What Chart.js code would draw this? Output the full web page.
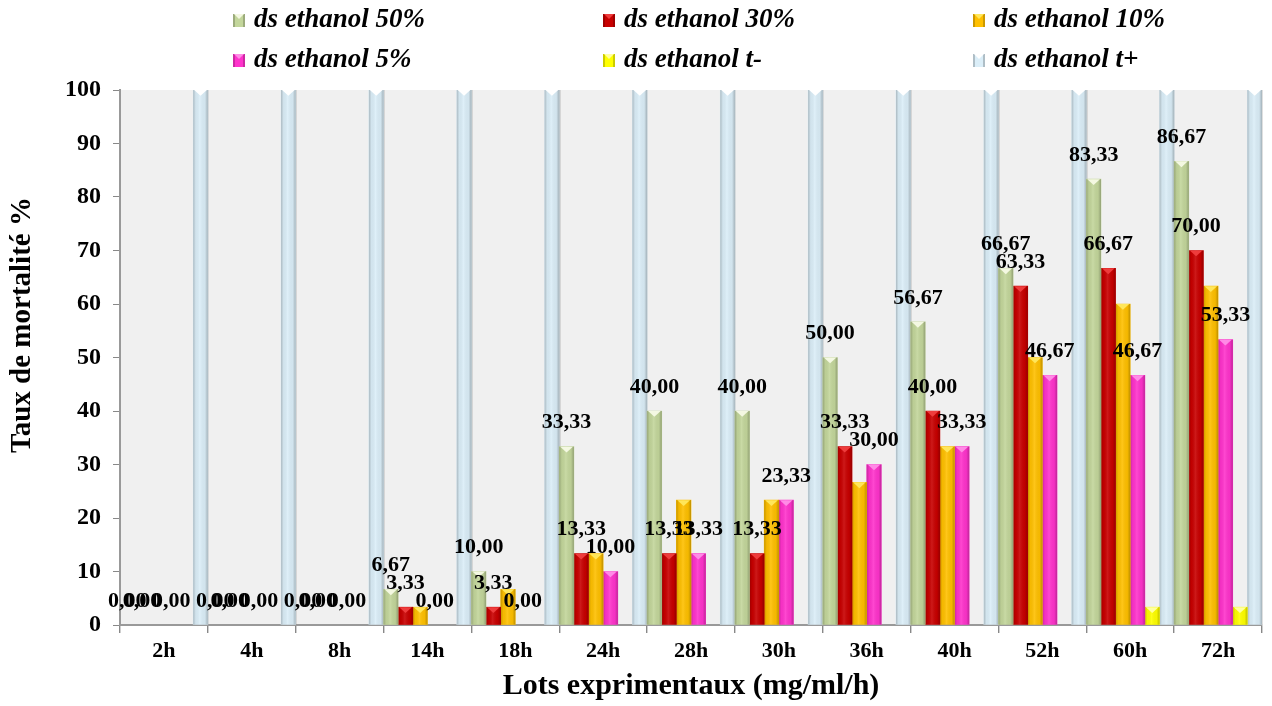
<!DOCTYPE html>
<html>
<head>
<meta charset="utf-8">
<script src="https://cdn.jsdelivr.net/npm/chart.js@4.4.0/dist/chart.umd.min.js"></script>
<style>
  html, body { margin: 0; padding: 0; background: #fff; }
</style>
</head>
<body>
<canvas id="mortalityChart" width="1272" height="706"></canvas>
<script>
"use strict";

// Exposure times
const lots = ["2h", "4h", "8h", "14h", "18h", "24h", "28h", "30h", "36h", "40h", "52h", "60h", "72h"];

// Mortality rate (%) for each ethanol extract dose
const ethanol50 = [0, 0, 0, 6.67, 10, 33.33, 40, 40, 50, 56.67, 66.67, 83.33, 86.67];
const ethanol30 = [0, 0, 0, 3.33, 3.33, 13.33, 13.33, 13.33, 33.33, 40, 63.33, 66.67, 70];
const ethanol10 = [0, 0, 0, 3.33, 6.67, 13.33, 23.33, 23.33, 26.67, 33.33, 50, 60, 63.33];
const ethanol5 = [0, 0, 0, 0, 0, 10, 13.33, 23.33, 30, 33.33, 46.67, 46.67, 53.33];
const ethanolTminus = [0, 0, 0, 0, 0, 0, 0, 0, 0, 0, 0, 3.33, 3.33];
const ethanolTplus = [100, 100, 100, 100, 100, 100, 100, 100, 100, 100, 100, 100, 100];

const SERIF = "'Liberation Serif', 'Times New Roman', serif";
const Y_TITLE = "Taux de mortalité %";

// label, values, fill, bevel highlight, whether values are printed
const series = [
  { label: "ds ethanol 50%", data: ethanol50, color: "#c3d69b", light: "#f4f8e2", values: true },
  { label: "ds ethanol 30%", data: ethanol30, color: "#c80000", light: "#ee3c3c", values: true },
  { label: "ds ethanol 10%", data: ethanol10, color: "#ffc000", light: "#ffe65a", values: false },
  { label: "ds ethanol 5%", data: ethanol5, color: "#ff33cc", light: "#ff8ae6", values: true },
  { label: "ds ethanol t-", data: ethanolTminus, color: "#ffff00", light: "#ffffa0", values: false },
  { label: "ds ethanol t+", data: ethanolTplus, color: "#dbeef8", light: "#ffffff", values: false }
];

// Gray plot wall behind the bars
const plotBackground = {
  id: "plotBackground",
  beforeDraw(chart) {
    const { ctx, chartArea: a } = chart;
    ctx.save();
    ctx.fillStyle = "#f0f0f0";
    ctx.fillRect(a.left, a.top, a.right - a.left, a.bottom - a.top);
    ctx.restore();
  }
};

// Shaded sides and a light pyramid cap on every bar
const bevel = {
  id: "bevel",
  afterDatasetDraw(chart, args) {
    const s = series[args.index];
    const ctx = chart.ctx;
    ctx.save();
    args.meta.data.forEach(bar => {
      const { x, y, base, width } = bar.getProps(["x", "y", "base", "width"], true);
      const h = base - y;
      if (h < 1) return;
      const left = x - width / 2;
      const g = ctx.createLinearGradient(left, 0, left + width, 0);
      g.addColorStop(0, "rgba(0,0,0,0.22)");
      g.addColorStop(0.18, "rgba(0,0,0,0.04)");
      g.addColorStop(0.45, "rgba(255,255,255,0.10)");
      g.addColorStop(0.8, "rgba(0,0,0,0.04)");
      g.addColorStop(1, "rgba(0,0,0,0.25)");
      ctx.fillStyle = g;
      ctx.fillRect(left, y, width, h);
      const cap = Math.min(width * 0.4, h);
      ctx.fillStyle = s.light;
      ctx.beginPath();
      ctx.moveTo(left + 1, y);
      ctx.lineTo(left + width - 1, y);
      ctx.lineTo(x, y + cap);
      ctx.closePath();
      ctx.fill();
    });
    ctx.restore();
  }
};

// Printed values above bars ("33,33")
const valueLabels = {
  id: "valueLabels",
  afterDatasetsDraw(chart) {
    const ctx = chart.ctx;
    ctx.save();
    ctx.font = "bold 22px " + SERIF;
    ctx.fillStyle = "#000";
    ctx.textAlign = "center";
    ctx.textBaseline = "middle";
    series.forEach((s, i) => {
      if (!s.values) return;
      chart.getDatasetMeta(i).data.forEach((bar, j) => {
        const txt = s.data[j].toFixed(2).replace(".", ",");
        ctx.fillText(txt, bar.x, bar.y - 24);
      });
    });
    ctx.restore();
  }
};

// Two-row legend in three columns, plus the rotated y title
const gridLegend = {
  id: "gridLegend",
  afterDraw(chart) {
    const ctx = chart.ctx;
    const cols = [233, 603, 973];
    const rows = [20, 60];
    ctx.save();
    ctx.font = "italic bold 27px " + SERIF;
    ctx.textBaseline = "middle";
    ctx.textAlign = "left";
    series.forEach((s, i) => {
      const bx = cols[i % 3];
      const by = rows[Math.floor(i / 3)];
      ctx.fillStyle = s.color;
      ctx.fillRect(bx, by - 6, 12, 13);
      ctx.fillStyle = "rgba(0,0,0,0.2)";
      ctx.fillRect(bx, by - 6, 2, 13);
      ctx.fillRect(bx + 10, by - 6, 2, 13);
      ctx.fillStyle = s.light;
      ctx.beginPath();
      ctx.moveTo(bx + 1, by - 6);
      ctx.lineTo(bx + 11, by - 6);
      ctx.lineTo(bx + 6, by - 1);
      ctx.closePath();
      ctx.fill();
      ctx.fillStyle = "#000";
      ctx.fillText(s.label, bx + 21, by);
    });

    ctx.translate(23, 325);
    ctx.rotate(-Math.PI / 2);
    ctx.font = "bold 29px " + SERIF;
    ctx.textAlign = "center";
    ctx.fillText(Y_TITLE, 0, 0);
    ctx.restore();
  }
};

new Chart(document.getElementById("mortalityChart"), {
  type: "bar",
  data: {
    labels: lots,
    datasets: series.map(s => ({
      label: s.label,
      data: s.data,
      // empty bars stay invisible instead of a hairline on the axis
      backgroundColor: ctx => (ctx.raw > 0 ? s.color : "rgba(0,0,0,0)"),
      borderWidth: 0,
      categoryPercentage: 1.0,
      barPercentage: 1.0
    }))
  },
  options: {
    responsive: false,
    animation: false,
    layout: { padding: { top: 90, right: 10, left: 0, bottom: 0 } },
    plugins: {
      legend: { display: false },
      tooltip: { enabled: false }
    },
    scales: {
      x: {
        afterFit(scale) { scale.height = 81; },
        grid: { color: "#b0b0b0", lineWidth: 1.4, tickLength: 8, tickColor: "#888" },
        border: { color: "#999", width: 2 },
        ticks: { color: "#000", padding: 5, font: { family: SERIF, size: 22, weight: "bold" } },
        title: {
          display: true,
          text: "Lots exprimentaux (mg/ml/h)",
          color: "#000",
          padding: { top: 2, bottom: 2 },
          font: { family: SERIF, size: 30, weight: "bold" }
        }
      },
      y: {
        min: 0,
        max: 100,
        afterFit(scale) { scale.width = 120; },
        grid: { drawOnChartArea: false, tickLength: 7, color: "#888" },
        border: { color: "#999", width: 2 },
        ticks: { stepSize: 10, color: "#000", padding: 12, font: { family: SERIF, size: 24, weight: "bold" } }
      }
    }
  },
  plugins: [plotBackground, bevel, valueLabels, gridLegend]
});
</script>
</body>
</html>
